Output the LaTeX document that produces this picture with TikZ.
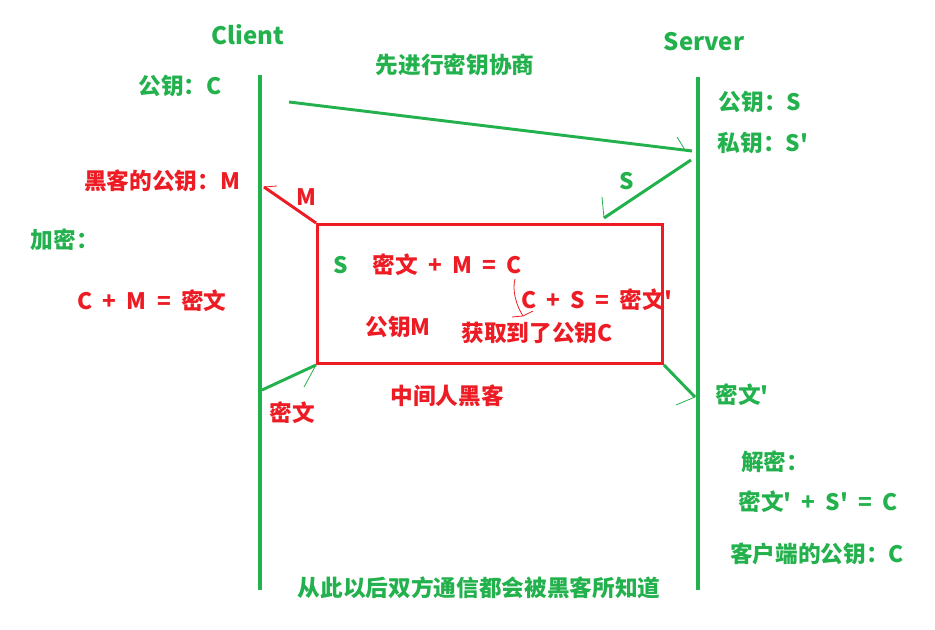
\documentclass[tikz,border=0pt]{standalone}
\usepackage{fontspec}
\newfontfamily\yh{Noto Sans CJK SC}
\definecolor{gr}{HTML}{22B14C}
\definecolor{rd}{HTML}{ED1C24}
\newcommand\gap{\hspace{0.45em}}
\begin{document}
\begin{tikzpicture}[x=0.75pt,y=-0.75pt,
  every node/.style={font=\yh\bfseries\fontsize{17}{19}\selectfont, inner sep=0pt},
  g/.style={text=gr}, r/.style={text=rd},
  life/.style={draw=gr, line width=3pt},
  gline/.style={draw=gr, line width=2.2pt},
  rline/.style={draw=rd, line width=2.2pt},
  gbarb/.style={draw=gr, line width=0.6pt},
  rbarb/.style={draw=rd, line width=0.6pt}]
\useasboundingbox (0,0) rectangle (935,630);
% lifelines
\coordinate (c0) at (260,75); \coordinate (c1) at (260,590);
\coordinate (s0) at (698,77); \coordinate (s1) at (698,590);
\draw[life] (c0) -- (c1);
\draw[life] (s0) -- (s1);
% hacker box
\node[draw=rd, line width=2.2pt, minimum width=258.75pt, minimum height=104.25pt, anchor=north west] (box) at (316,223) {};
% messages
\coordinate (m1a) at (289,102); \coordinate (m1b) at (692,151);
\draw[gline] (m1a) -- (m1b);
\coordinate (b1) at (677,137); \draw[gbarb] (b1) -- (685,150);
\coordinate (m2a) at (691,160); \coordinate (m2b) at (604,218);
\draw[gline] (m2a) -- (m2b);
\coordinate (b2) at (602,197); \draw[gbarb] (b2) -- (604,218);
\coordinate (m3b) at (264,187);
\draw[rline] (box.north west) -- (m3b);
\draw[rbarb] (m3b) -- (277,186);
\coordinate (m4a) at (262,390); \coordinate (m4b) at (316,365);
\draw[gline] (m4a) -- (m4b);
\draw[gbarb] (304,387) .. controls (309,378) and (312,372) .. (m4b);
\coordinate (m5b) at (695,397);
\draw[gline] (box.south east) -- (m5b);
\draw[gbarb] (676,405) -- (m5b);
% labels
\node[g, font=\yh\bfseries\fontsize{18}{20}\selectfont] (client) at (248,35) {Client};
\node[g, font=\yh\bfseries\fontsize{18}{20}\selectfont] (server) at (704,42) {Server};
\node[g] (nego) at (455,65) {先进行密钥协商};
\node[g] (pkc) at (180,86) {公钥：C};
\node[g] (pks) at (760,102) {公钥：S};
\node[g] (sks) at (763,143) {私钥：S'};
\node[r] (hpk) at (162,181) {黑客的公钥：M};
\node[r] (mlab) at (306,197) {M};
\node[g] (slab) at (627,181) {S};
\node[g] (enc) at (65,240) {加密：};
\node[r] (eq1) at (152,301) {C\gap+\gap M\gap=\gap 密文};
\node[g] (s2) at (341,265) {S};
\node[r] (eq2) at (447,265) {密文\gap+\gap M\gap=\gap C};
\node[r] (eq3) at (597,300) {C\gap+\gap S\gap=\gap 密文'};
\node[r] (pkm) at (398,327) {公钥M};
\node[r] (got) at (537,333) {获取到了公钥C};
\node[r] (mitm) at (447,396) {中间人黑客};
\node[r] (ct) at (292,413) {密文};
\node[g] (ct2) at (742,395) {密文'};
\node[g] (dec) at (775,462) {解密：};
\node[g] (eq4) at (818,502) {密文'\gap+\gap S'\gap=\gap C};
\node[g] (cpk) at (817,554) {客户端的公钥：C};
\node[g] (foot) at (479,588) {从此以后双方通信都会被黑客所知道};
% hand-drawn hook from C
\draw[rbarb] (515,279) .. controls (512,290) and (516,305) .. (523,316);
\draw[rbarb] (512,317) -- (523,316) -- (533,311);
\end{tikzpicture}
\end{document}
